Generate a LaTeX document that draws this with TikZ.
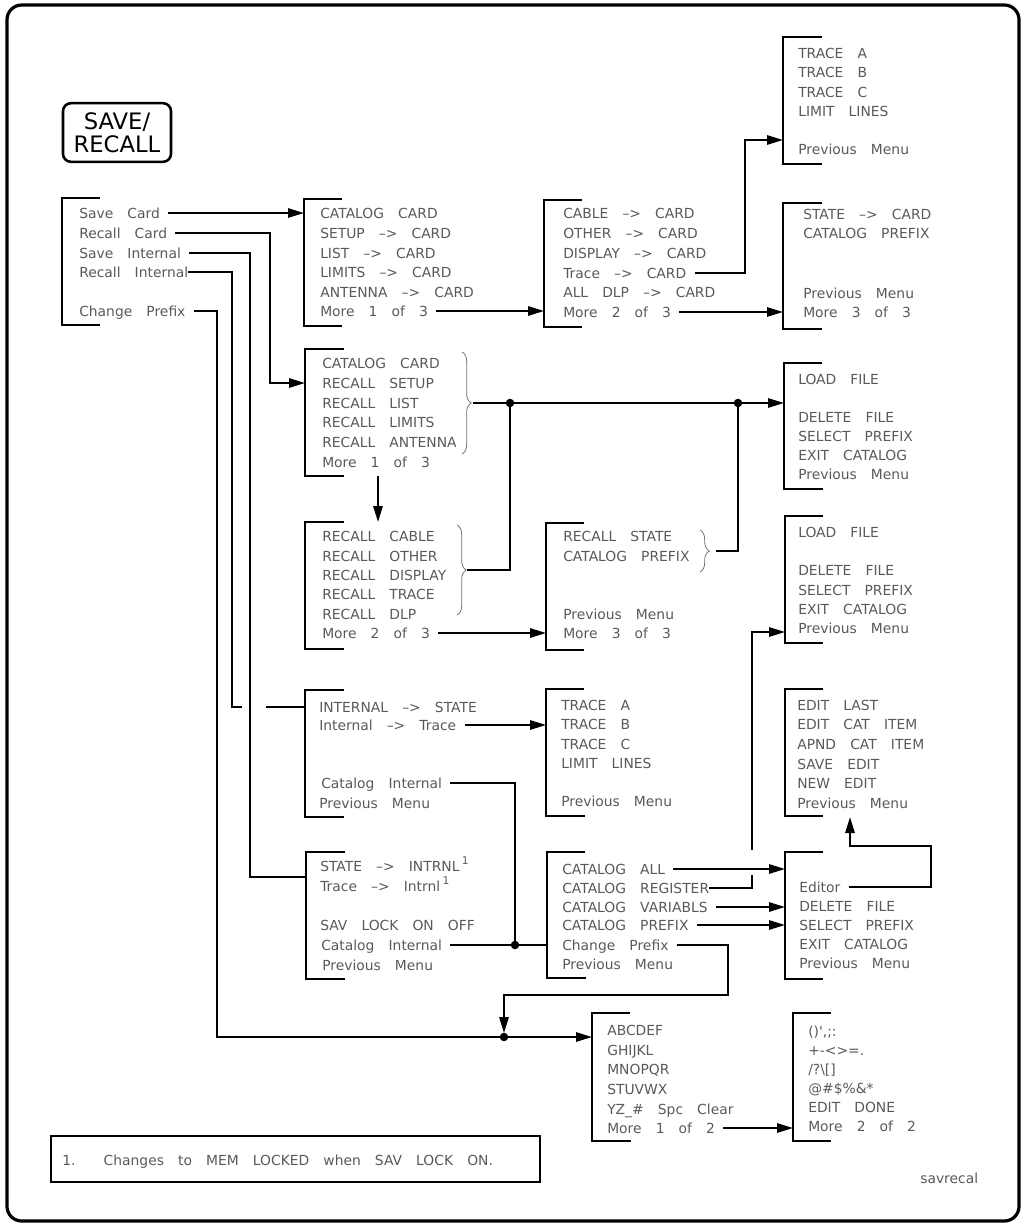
\documentclass[tikz,border=0pt]{standalone}
\usepackage{fontspec}
\setmainfont{DejaVu Sans}[WordSpace=3.2]
\usetikzlibrary{arrows.meta,decorations.pathreplacing}

\tikzset{
  item/.style={anchor=west, inner sep=0pt, text height=7.5pt, text depth=0pt,
    text=black!65, font=\fontsize{10.4}{12}\selectfont},
  bracket/.style={line width=2.2pt},
  wire/.style={line width=1.5pt},
  link/.style={wire, shorten <=6pt},
  brace/.style={decorate, decoration={brace, amplitude=7pt}, line width=0.6pt, black!55},
}
\newcommand\noteone{\,\raisebox{0.9ex}{\fontsize{8}{8}\selectfont 1}}

\begin{document}
\begin{tikzpicture}[x=0.75pt, y=-0.75pt, >={Triangle[length=12pt,width=7pt]}]
        \useasboundingbox (0,0) rectangle (1030,1224);
        \draw[line width=2.4pt, rounded corners=11pt] (7,5) rectangle (1019,1221);

        % front panel key
        \node[draw, line width=1.9pt, rounded corners=6pt, minimum width=81pt, minimum height=44pt,
          inner sep=0pt, align=center, font=\fontsize{17}{17.5}\selectfont] (key) at (117,132.5) {SAVE/\\RECALL};

        % menu brackets
        \draw[bracket] (100,198) -- (62,198) coordinate (root) -- (62,325) -- (100,325);
        \draw[bracket] (342,199) -- (304,199) coordinate (s1) -- (304,326) -- (342,326);
        \draw[bracket] (582,200) -- (544,200) coordinate (s2) -- (544,327) -- (582,327);
        \draw[bracket] (822,37) -- (783,37) coordinate (st) -- (783,164) -- (822,164);
        \draw[bracket] (822,203) -- (783,203) coordinate (s3) -- (783,329) -- (822,329);
        \draw[bracket] (344,349) -- (305,349) coordinate (c1) -- (305,476) -- (344,476);
        \draw[bracket] (344,522) -- (305,522) coordinate (c2) -- (305,649) -- (344,649);
        \draw[bracket] (584,523) -- (546,523) coordinate (c3) -- (546,650) -- (584,650);
        \draw[bracket] (822,363) -- (784,363) coordinate (l1) -- (784,489) -- (823,489);
        \draw[bracket] (823,516) -- (785,516) coordinate (l2) -- (785,643) -- (823,643);
        \draw[bracket] (344,690) -- (305,690) coordinate (i1) -- (305,817) -- (344,817);
        \draw[bracket] (584,689) -- (546,689) coordinate (it) -- (546,816) -- (585,816);
        \draw[bracket] (345,852) -- (306,852) coordinate (i2) -- (306,979) -- (345,979);
        \draw[bracket] (585,852) -- (547,852) coordinate (ca) -- (547,978) -- (586,978);
        \draw[bracket] (823,852) -- (785,852) coordinate (ed) -- (785,979) -- (823,979);
        \draw[bracket] (823,689) -- (785,689) coordinate (el) -- (785,816) -- (823,816);
        \draw[bracket] (630,1013) -- (592,1013) coordinate (al) -- (592,1141) -- (631,1141);
        \draw[bracket] (831,1013) -- (793,1013) coordinate (sy) -- (793,1141) -- (831,1141);

        % softkey labels
        \node[item] (root1) at (79,213) {Save Card};
        \node[item] (root2) at (79,233) {Recall Card};
        \node[item] (root3) at (79,253) {Save Internal};
        \node[item] (root4) at (79,272) {Recall Internal};
        \node[item] (root6) at (79,311) {Change Prefix};

        \node[item] (s11) at (320,213) {CATALOG CARD};
        \node[item] (s12) at (320,233) {SETUP --{}> CARD};
        \node[item] (s13) at (320,253) {LIST --{}> CARD};
        \node[item] (s14) at (320,272) {LIMITS --{}> CARD};
        \node[item] (s15) at (320,292) {ANTENNA --{}> CARD};
        \node[item] (s16) at (320,311) {More 1 of 3};

        \node[item] (s21) at (563,213) {CABLE --{}> CARD};
        \node[item] (s22) at (563,233) {OTHER --{}> CARD};
        \node[item] (s23) at (563,253) {DISPLAY --{}> CARD};
        \node[item] (s24) at (563,273) {Trace --{}> CARD};
        \node[item] (s25) at (563,292) {ALL DLP --{}> CARD};
        \node[item] (s26) at (563,312) {More 2 of 3};

        \node[item] (st1) at (798,53) {TRACE A};
        \node[item] (st2) at (798,72) {TRACE B};
        \node[item] (st3) at (798,92) {TRACE C};
        \node[item] (st4) at (798,111) {LIMIT LINES};
        \node[item] (st6) at (798,149) {Previous Menu};

        \node[item] (s31) at (803,214) {STATE --{}> CARD};
        \node[item] (s32) at (803,233) {CATALOG PREFIX};
        \node[item] (s35) at (803,293) {Previous Menu};
        \node[item] (s36) at (803,312) {More 3 of 3};

        \node[item] (c11) at (322,363) {CATALOG CARD};
        \node[item] (c12) at (322,383) {RECALL SETUP};
        \node[item] (c13) at (322,403) {RECALL LIST};
        \node[item] (c14) at (322,422) {RECALL LIMITS};
        \node[item] (c15) at (322,442) {RECALL ANTENNA};
        \node[item] (c16) at (322,462) {More 1 of 3};

        \node[item] (c21) at (322,536) {RECALL CABLE};
        \node[item] (c22) at (322,556) {RECALL OTHER};
        \node[item] (c23) at (322,575) {RECALL DISPLAY};
        \node[item] (c24) at (322,594) {RECALL TRACE};
        \node[item] (c25) at (322,614) {RECALL DLP};
        \node[item] (c26) at (322,633) {More 2 of 3};

        \node[item] (c31) at (563,536) {RECALL STATE};
        \node[item] (c32) at (563,556) {CATALOG PREFIX};
        \node[item] (c35) at (563,614) {Previous Menu};
        \node[item] (c36) at (563,633) {More 3 of 3};

        \node[item] (l11) at (798,379) {LOAD FILE};
        \node[item] (l13) at (798,417) {DELETE FILE};
        \node[item] (l14) at (798,436) {SELECT PREFIX};
        \node[item] (l15) at (798,455) {EXIT CATALOG};
        \node[item] (l16) at (798,474) {Previous Menu};

        \node[item] (l21) at (798,532) {LOAD FILE};
        \node[item] (l23) at (798,570) {DELETE FILE};
        \node[item] (l24) at (798,590) {SELECT PREFIX};
        \node[item] (l25) at (798,609) {EXIT CATALOG};
        \node[item] (l26) at (798,628) {Previous Menu};

        \node[item] (i11) at (319,707) {INTERNAL --{}> STATE};
        \node[item] (i12) at (319,725) {Internal --{}> Trace};
        \node[item] (i15) at (321,783) {Catalog Internal};
        \node[item] (i16) at (319,803) {Previous Menu};

        \node[item] (it1) at (561,705) {TRACE A};
        \node[item] (it2) at (561,724) {TRACE B};
        \node[item] (it3) at (561,744) {TRACE C};
        \node[item] (it4) at (561,763) {LIMIT LINES};
        \node[item] (it6) at (561,801) {Previous Menu};

        \node[item] (i21) at (320,866) {STATE --{}> INTRNL\noteone};
        \node[item] (i22) at (320,886) {Trace --{}> Intrnl\noteone};
        \node[item] (i24) at (320,925) {SAV LOCK ON OFF};
        \node[item] (i25) at (321,945) {Catalog Internal};
        \node[item] (i26) at (322,965) {Previous Menu};

        \node[item] (ca1) at (562,869) {CATALOG ALL};
        \node[item] (ca2) at (562,888) {CATALOG REGISTER};
        \node[item] (ca3) at (562,907) {CATALOG VARIABLS};
        \node[item] (ca4) at (562,925) {CATALOG PREFIX};
        \node[item] (ca5) at (562,945) {Change Prefix};
        \node[item] (ca6) at (562,964) {Previous Menu};

        \node[item] (ed2) at (799,887) {Editor};
        \node[item] (ed3) at (799,906) {DELETE FILE};
        \node[item] (ed4) at (799,925) {SELECT PREFIX};
        \node[item] (ed5) at (799,944) {EXIT CATALOG};
        \node[item] (ed6) at (799,963) {Previous Menu};

        \node[item] (el1) at (797,705) {EDIT LAST};
        \node[item] (el2) at (797,724) {EDIT CAT ITEM};
        \node[item] (el3) at (797,744) {APND CAT ITEM};
        \node[item] (el4) at (797,764) {SAVE EDIT};
        \node[item] (el5) at (797,783) {NEW EDIT};
        \node[item] (el6) at (797,803) {Previous Menu};

        \node[item] (al1) at (607,1030) {ABCDEF};
        \node[item] (al2) at (607,1050) {GHIJKL};
        \node[item] (al3) at (607,1069) {MNOPQR};
        \node[item] (al4) at (607,1089) {STUVWX};
        \node[item] (al5) at (607,1109) {YZ\_\# Spc Clear};
        \node[item] (al6) at (607,1128) {More 1 of 2};

        \node[item] (sy1) at (808,1031) {()\textquotesingle,;:};
        \node[item] (sy2) at (808,1050) {+-<>=.};
        \node[item] (sy3) at (808,1069) {/?\textbackslash[]};
        \node[item] (sy4) at (808,1088) {@\#\$\%\&*};
        \node[item] (sy5) at (808,1107) {EDIT DONE};
        \node[item] (sy6) at (808,1126) {More 2 of 2};

        % junctions and free ends
        \coordinate (j1) at (510,403);
        \coordinate (j2) at (738,403);
        \coordinate (j3) at (515,945);
        \coordinate (j4) at (504,1037);
        \coordinate (stin) at (783,140);
        \coordinate (l1in) at (784,403);
        \coordinate (l2in) at (785,632);
        \coordinate (i2in) at (306,877);
        \coordinate (alin) at (592,1037);
        \coordinate (elout) at (850,817);
        \coordinate (c1out) at (378,476);

        % braces
        \draw[brace] (462,352) -- (462,454);
        \coordinate (c1b) at (473,403);
        \draw[brace] (457,525) -- (457,615);
        \coordinate (c2b) at (467,570);
        \draw[brace] (700,530) -- (700,572);
        \coordinate (c3b) at (711,551);

        % connectors
        \draw[link,->] (root1.east) -- (s1 |- root1);
        \draw[link,->] (root2.east) -| (270,383) -- (c1 |- c12);
        \draw[link] (root3.east) -| (250,877) -- (i2in);
        \draw[link] (root4.east) -| (232,707) -- (242,707) (258,707) -- (i1 |- i11);
        \draw[link,->] (root6.east) -| (217,1037) -- (alin);

        \draw[link,->] (s16.east) -- (s2 |- s16);
        \draw[link,->] (s24.east) -| (745,140) -- (stin);
        \draw[link,->] (s26.east) -- (s3 |- s26);

        \draw[wire,->] (c1b) -- (j1) -- (j2) -- (l1in);
        \draw[wire] (c2b) -| (j1);
        \draw[wire, shorten <=4pt] (c3b) -| (j2);
        \draw[wire,->] (c1out) -- (c1out |- c2);
        \draw[link,->] (c26.east) -- (c3 |- c26);

        \draw[link,->] (i12.east) -- (it |- i12);
        \draw[link] (i15.east) -| (j3);
        \draw[link] (i25.east) -- (ca |- i25);

        \draw[link,->] (ca1.east) -- (ed |- ca1);
        \draw[link,->] (ca2.east) -| (752,875) (752,858) |- (l2in);
        \draw[link,->] (ca3.east) -- (ed |- ca3);
        \draw[link,->] (ca4.east) -- (ed |- ca4);
        \draw[link,->, shorten >=3pt] (ca5.east) -| (728,995) -| (j4);
        \draw[link,->] (ed2.east) -| (931,846) -| (elout);
        \draw[link,->] (al6.east) -- (sy |- al6);

        \fill (j1) circle (3.2pt);
        \fill (j2) circle (3.2pt);
        \fill (j3) circle (3.2pt);
        \fill (j4) circle (3.2pt);

        % footnote
        \draw[line width=1.5pt] (51,1136) rectangle (540,1182);
        \node[item] (note) at (62,1160) {1.\ \ Changes to MEM LOCKED when SAV LOCK ON.};
        \node[item] (fig) at (920,1178) {savrecal};
\end{tikzpicture}
\end{document}
